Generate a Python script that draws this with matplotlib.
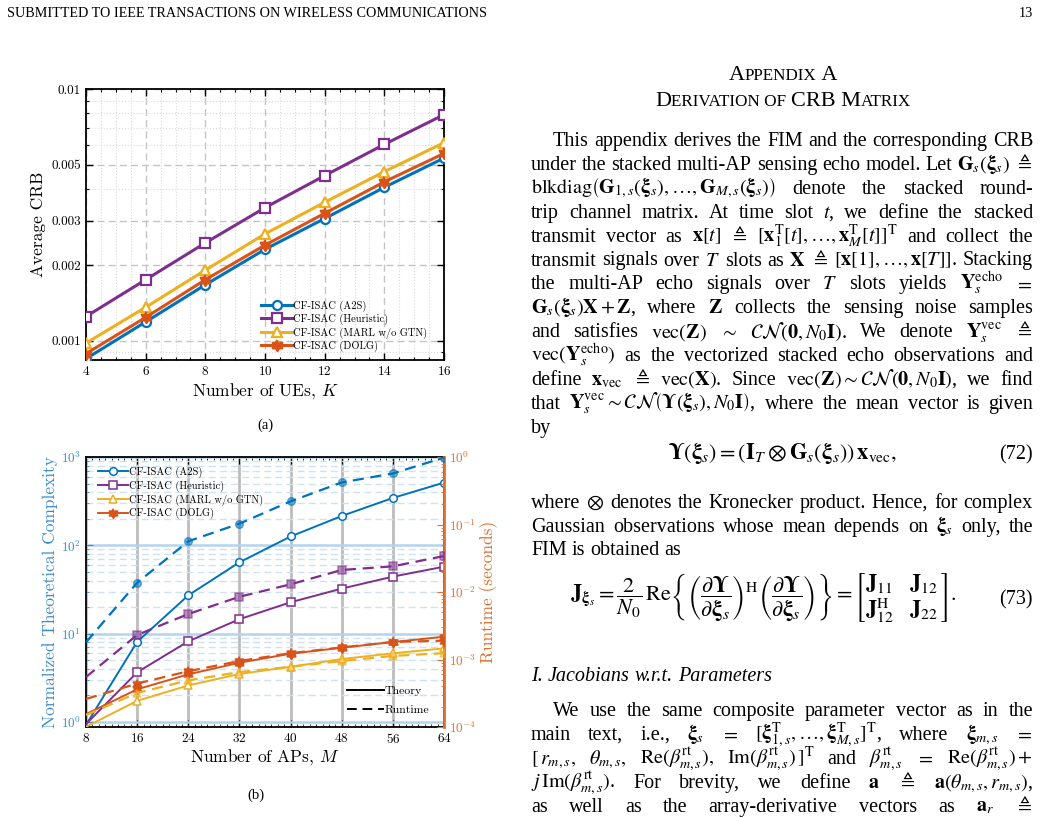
import numpy as np
import matplotlib
matplotlib.use("Agg")
import matplotlib.pyplot as plt
from matplotlib.lines import Line2D
from matplotlib.colors import to_rgba
from matplotlib.ticker import FixedLocator, NullFormatter, MultipleLocator, LogLocator
from matplotlib.offsetbox import TextArea, HPacker, AnnotationBbox

plt.rcParams['font.family'] = 'cmr10'
plt.rcParams['mathtext.fontset'] = 'cm'
plt.rcParams['axes.unicode_minus'] = False
plt.rcParams['axes.formatter.use_mathtext'] = True

# ---- data: (a) CRB vs number of UEs
K = [4, 6, 8, 10, 12, 14, 16]
crb_a2s = [0.00085, 0.00119, 0.00167, 0.00231, 0.00306, 0.00407, 0.00532]
crb_heur = [0.00125, 0.00175, 0.00245, 0.00338, 0.00453, 0.00603, 0.00791]
crb_marl = [0.00098, 0.00136, 0.00191, 0.00266, 0.00355, 0.00470, 0.00612]
crb_dolg = [0.00089, 0.00124, 0.00175, 0.00240, 0.00321, 0.00428, 0.00555]

# ---- data: (b) complexity / runtime vs number of APs
M = [8, 16, 24, 32, 40, 48, 56, 64]
theory_a2s = [0.93, 8.1, 27.2, 64.3, 126, 215, 344, 513]
theory_heur = [0.95, 3.66, 8.2, 14.6, 22.7, 32.4, 44.3, 57.4]
theory_marl = [0.885, 1.74, 2.6, 3.5, 4.23, 5.17, 6.0, 6.83]
theory_dolg = [1.23, 2.35, 3.47, 4.7, 5.94, 6.94, 8.05, 9.25]
runtime_a2s = [0.0018, 0.0137, 0.0564, 0.103, 0.22, 0.42, 0.57, 0.98]
runtime_heur = [0.00055, 0.00231, 0.00472, 0.0085, 0.013, 0.0212, 0.024, 0.0341]
runtime_marl = [0.00015, 0.00032, 0.00049, 0.00065, 0.00078, 0.00095, 0.00113, 0.00124]
runtime_dolg = [0.00026, 0.00044, 0.00067, 0.00095, 0.00124, 0.00151, 0.00182, 0.0019]

labels = ['CF-ISAC (A2S)', 'CF-ISAC (Heuristic)', 'CF-ISAC (MARL w/o GTN)', 'CF-ISAC (DOLG)']
colors = ['#0072BD', '#7E2F8E', '#EDB120', '#D95319']

# six-pointed star like MATLAB 'hexagram'
ang = np.pi / 2 + np.arange(12) * np.pi / 6
rad = np.where(np.arange(12) % 2 == 0, 1.0, 0.58)
hexagram = list(zip(rad * np.cos(ang), rad * np.sin(ang)))
markers = ['o', 's', '^', hexagram]

W, H = 1040, 817
fig = plt.figure(figsize=(W / 100, H / 100), dpi=100)


def fx(x):
    return x / W


def fy(y):
    return 1 - y / H


# ================= (a) =================
ax1 = fig.add_axes([fx(86), fy(360), 358 / W, 271 / H])
ax1.set_yscale('log')
crb = [crb_a2s, crb_heur, crb_marl, crb_dolg]
for i in range(4):
    filled = i == 3
    ax1.plot(K, crb[i], color=colors[i], lw=2.2, marker=markers[i],
             ms=6.5 if i < 3 else 8, mew=1.6,
             mfc=colors[i] if filled else 'white', label=labels[i], zorder=3)
ax1.set_xlim(4, 16)
ax1.set_ylim(0.00084, 0.01)
ax1.set_xticks(K)
ax1.xaxis.set_minor_locator(MultipleLocator(0.5))
ax1.set_yticks([0.001, 0.002, 0.003, 0.005, 0.01],
               labels=['0.001', '0.002', '0.003', '0.005', '0.01'])
ax1.yaxis.set_minor_locator(FixedLocator([0.0009, 0.004, 0.006, 0.007, 0.008, 0.009]))
ax1.yaxis.set_minor_formatter(NullFormatter())
ax1.tick_params(which='both', direction='in', top=True, right=True, labelsize=9.5)
ax1.tick_params(which='major', length=5, width=1)
ax1.tick_params(which='minor', length=2.5, width=0.8)
ax1.grid(which='major', ls=(0, (5, 3)), color='#c4c4c4', lw=1)
ax1.grid(which='minor', ls=':', color='#dadada', lw=0.8)
for s in ax1.spines.values():
    s.set_linewidth(1.3)
ax1.set_xlabel('Number of UEs, $K$', fontsize=12.5, labelpad=2)
ax1.set_ylabel('Average CRB', fontsize=12.5, labelpad=4)
ax1.legend(loc='lower left', bbox_to_anchor=(0.49, 0.03), frameon=False,
           fontsize=7.5, handlelength=2.9, handletextpad=0.1, labelspacing=0.2,
           borderpad=0, borderaxespad=0)

# ================= (b) =================
blue_lab = '#3a8ccc'
orange_lab = '#e07030'
ax2 = fig.add_axes([fx(86), fy(727), 358 / W, 270 / H])
ax2.set_yscale('log')
ax2.set_xlim(8, 64)
ax2.set_ylim(0.88, 1000)
ax2.set_xticks(M)
ax2.xaxis.set_minor_locator(MultipleLocator(1))
ax2.set_yticks([1, 10, 100, 1000], labels=['$10^{0}$', '$10^{1}$', '$10^{2}$', '$10^{3}$'])
ax2.yaxis.set_minor_locator(LogLocator(base=10, subs=np.arange(2, 10)))
ax2.yaxis.set_minor_formatter(NullFormatter())
ax2.tick_params(axis='x', which='both', direction='in', top=True, labelsize=9.5)
ax2.tick_params(axis='y', which='both', direction='in', colors=blue_lab, labelsize=9.5)
ax2.tick_params(which='major', length=5)
ax2.tick_params(which='minor', length=2.5)
ax2.grid(axis='y', which='major', ls='-', color='#b4d4ee', lw=1.8)
ax2.grid(axis='y', which='minor', ls=(0, (5, 3)), color='#cfe2f3', lw=1)
ax2.grid(axis='x', which='major', ls='-', color='#bcbcbc', lw=2)
for s in ax2.spines.values():
    s.set_linewidth(1.3)
ax2.set_xlabel('Number of APs, $M$', fontsize=12.5, labelpad=1)
ax2.set_ylabel('Normalized Theoretical Complexity', fontsize=12.5, color=blue_lab, labelpad=2)

theory = [theory_a2s, theory_heur, theory_marl, theory_dolg]
runtime = [runtime_a2s, runtime_heur, runtime_marl, runtime_dolg]
for i in range(4):
    ax2.plot(M, theory[i], color=colors[i], lw=1.4, marker=markers[i],
             ms=5.5 if i < 3 else 7, mew=1.1, markevery=slice(1, None),
             mfc=colors[i] if i == 3 else 'white', label=labels[i], zorder=3)

ax2r = ax2.twinx()
ax2r.set_yscale('log')
ax2r.set_ylim(1e-4, 1)
for i in range(4):
    light = to_rgba(colors[i], 0.55)
    ax2r.plot(M, runtime[i], color=colors[i], lw=1.6, ls=(0, (5, 3)), marker=markers[i],
              ms=5.5 if i < 3 else 7, mew=1.1, markevery=slice(1, None),
              mfc=colors[i] if i == 3 else light, zorder=3)
ax2r.set_yticks([1e-4, 1e-3, 1e-2, 1e-1, 1],
                labels=['$10^{-4}$', '$10^{-3}$', '$10^{-2}$', '$10^{-1}$', '$10^{0}$'])
ax2r.yaxis.set_minor_locator(LogLocator(base=10, subs=np.arange(2, 10)))
ax2r.yaxis.set_minor_formatter(NullFormatter())
ax2r.tick_params(axis='y', which='both', direction='in', colors=orange_lab, labelsize=9.5)
ax2r.tick_params(which='major', length=5)
ax2r.tick_params(which='minor', length=2.5)
for side in ['left', 'top', 'bottom']:
    ax2r.spines[side].set_visible(False)
ax2r.spines['right'].set_color(orange_lab)
ax2r.spines['right'].set_linewidth(2)
ax2r.set_ylabel('Runtime (seconds)', fontsize=12.5, color=orange_lab, labelpad=2)

leg1 = ax2r.legend(handles=ax2.get_lines(), loc='upper left', bbox_to_anchor=(0.034, 0.965),
                   frameon=False, fontsize=7.5, handlelength=2.9, handletextpad=0.1,
                   labelspacing=0.25, borderpad=0, borderaxespad=0)
ax2r.add_artist(leg1)
style_handles = [Line2D([], [], color='k', lw=1.4), Line2D([], [], color='k', lw=1.4, ls=(0, (5, 3)))]
ax2r.legend(handles=style_handles, labels=['Theory', 'Runtime'], loc='lower left',
            bbox_to_anchor=(0.729, 0.045), frameon=False, fontsize=8.5, handlelength=3.1,
            handletextpad=0.1, labelspacing=0.75, borderpad=0, borderaxespad=0)

# captions
fig.text(fx(265), fy(425), '(a)', family='Liberation Serif', fontsize=10.5, ha='center', va='center')
fig.text(fx(256), fy(795), '(b)', family='Liberation Serif', fontsize=10.5, ha='center', va='center')

# ================= page text =================
SERIF = 'Liberation Serif'
BODY = 14.5
EQ = 16
fig.text(fx(7), fy(17), 'SUBMITTED TO IEEE TRANSACTIONS ON WIRELESS COMMUNICATIONS',
         family=SERIF, fontsize=10.2, va='baseline')
fig.text(fx(1033), fy(17), '13', family=SERIF, fontsize=10.2, va='baseline', ha='right')


def small_caps(parts, x, y, big=16, small=12.3):
    boxes = [TextArea(t, textprops=dict(family=SERIF, fontsize=big if b else small))
             for t, b in parts]
    pack = HPacker(children=boxes, align='baseline', pad=0, sep=0)
    ab = AnnotationBbox(pack, (fx(x), fy(y)), xycoords='figure fraction', frameon=False,
                        box_alignment=(0.5, 0.5))
    fig.add_artist(ab)


small_caps([('A', True), ('PPENDIX', False), (' A', True)], 783, 76)
small_caps([('D', True), ('ERIVATION OF ', False), ('CRB M', True), ('ATRIX', False)], 783, 101)

renderer = fig.canvas.get_renderer()


def split_tokens(s):
    out, cur, inmath = [], '', False
    for ch in s:
        if ch == '$':
            inmath = not inmath
        if ch == ' ' and not inmath:
            if cur:
                out.append(cur)
            cur = ''
        else:
            cur += ch
    if cur:
        out.append(cur)
    return out


def body_line(s, y, x0=531, x1=1033, justify=True, style='normal'):
    toks = split_tokens(s)
    ts = [fig.text(0, fy(y), t, family=SERIF, fontsize=BODY, style=style,
                   math_fontfamily='stix', va='baseline') for t in toks]
    widths = [t.get_window_extent(renderer).width for t in ts]
    if justify and len(ts) > 1:
        gap = (x1 - x0 - sum(widths)) / (len(ts) - 1)
    else:
        gap = BODY * 100 / 72 * 0.25
    x = x0
    for t, w in zip(ts, widths):
        t.set_x(fx(x))
        x += w + gap


xi = r'\mathbf{\xi}'
TT = r'{\mathrm{T}}'
lines1 = [
    'This appendix derives the FIM and the corresponding CRB',
    r'under the stacked multi-AP sensing echo model. Let $\mathbf{G}_s(' + xi + r'_s)$ $\triangleq$',
    r'$\mathrm{blkdiag}\left(\mathbf{G}_{1,s}(' + xi + r'_s),\ldots,\mathbf{G}_{M,s}(' + xi + r'_s)\right)$ denote the stacked round-',
    r'trip channel matrix. At time slot $t$, we define the stacked',
    r'transmit vector as $\mathbf{x}[t]$ $\triangleq$ $[\mathbf{x}_1^' + TT + r'[t],\ldots,\mathbf{x}_M^' + TT + r'[t]]^' + TT + r'$ and collect the',
    r'transmit signals over $T$ slots as $\mathbf{X}$ $\triangleq$ $[\mathbf{x}[1],\ldots,\mathbf{x}[T]]$. Stacking',
    r'the multi-AP echo signals over $T$ slots yields $\mathbf{Y}_s^{\mathrm{echo}}$ $=$',
    r'$\mathbf{G}_s(' + xi + r'_s)\mathbf{X}+\mathbf{Z}$, where $\mathbf{Z}$ collects the sensing noise samples',
    r'and satisfies $\mathrm{vec}(\mathbf{Z})$ $\sim$ $\mathcal{CN}(\mathbf{0},N_0\mathbf{I})$. We denote $\mathbf{Y}_s^{\mathrm{vec}}$ $\triangleq$',
    r'$\mathrm{vec}(\mathbf{Y}_s^{\mathrm{echo}})$ as the vectorized stacked echo observations and',
    r'define $\mathbf{x}_{\mathrm{vec}}$ $\triangleq$ $\mathrm{vec}(\mathbf{X})$. Since $\mathrm{vec}(\mathbf{Z})\sim\mathcal{CN}(\mathbf{0},N_0\mathbf{I})$, we find',
    r'that $\mathbf{Y}_s^{\mathrm{vec}}\sim\mathcal{CN}\left(\mathbf{\Upsilon}(' + xi + r'_s),N_0\mathbf{I}\right)$, where the mean vector is given',
]
for i, s in enumerate(lines1):
    body_line(s, 146 + 23.9 * i, x0=553 if i == 0 else 531)
body_line('by', 146 + 23.9 * 12, justify=False)

# equation (72)
fig.text(fx(783), fy(453), r'$\mathbf{\Upsilon}(' + xi + r'_s)=(\mathbf{I}_T\otimes\mathbf{G}_s(' + xi + r'_s))\,\mathbf{x}_{\mathrm{vec}},$',
         family=SERIF, fontsize=EQ, math_fontfamily='stix', ha='center', va='center')
fig.text(fx(1033), fy(459), '(72)', family=SERIF, fontsize=BODY, ha='right', va='baseline')

body_line(r'where $\otimes$ denotes the Kronecker product. Hence, for complex', 508)
body_line(r'Gaussian observations whose mean depends on $' + xi + r'_s$ only, the', 532)
body_line('FIM is obtained as', 555, justify=False)

# equation (73)
eq73 = (r'$\mathbf{J}_{' + xi + r'_s}=\dfrac{2}{N_0}\,\mathrm{Re}\left\{\left(\dfrac{\partial\mathbf{\Upsilon}}{\partial' + xi
        + r'_s}\right)^{\mathrm{H}}\left(\dfrac{\partial\mathbf{\Upsilon}}{\partial' + xi
        + r'_s}\right)\right\}=\genfrac{[}{]}{0}{0}{\mathbf{J}_{11}\quad\mathbf{J}_{12}}{\mathbf{J}_{12}^{\mathrm{H}}\quad\mathbf{J}_{22}}.$')
fig.text(fx(763), fy(598), eq73, family=SERIF, fontsize=EQ, math_fontfamily='stix', ha='center', va='center')
fig.text(fx(1033), fy(604), '(73)', family=SERIF, fontsize=BODY, ha='right', va='baseline')

body_line('I. Jacobians w.r.t. Parameters', 681, justify=False, style='italic')

beta = r'\beta_{m,s}^{\mathrm{rt}}'
lines2 = [
    'We use the same composite parameter vector as in the',
    r'main text, i.e., $' + xi + r'_s$ $=$ $[' + xi + r'_{1,s}^' + TT + r',\ldots,' + xi + r'_{M,s}^' + TT + r']^' + TT + r'$, where $' + xi + r'_{m,s}$ $=$',
    r'$[\,r_{m,s},$ $\theta_{m,s},$ $\mathrm{Re}(' + beta + r'),$ $\mathrm{Im}(' + beta + r')\,]^' + TT + r'$ and $' + beta + r'$ $=$ $\mathrm{Re}(' + beta + r')+$',
    r'$j\,\mathrm{Im}(' + beta + r')$. For brevity, we define $\mathbf{a}$ $\triangleq$ $\mathbf{a}(\theta_{m,s},r_{m,s})$,',
    r'as well as the array-derivative vectors as $\mathbf{a}_r$ $\triangleq$',
]
for i, s in enumerate(lines2):
    body_line(s, 716 + 23.9 * i, x0=553 if i == 0 else 531)

fig.savefig('out.png', dpi=100)
